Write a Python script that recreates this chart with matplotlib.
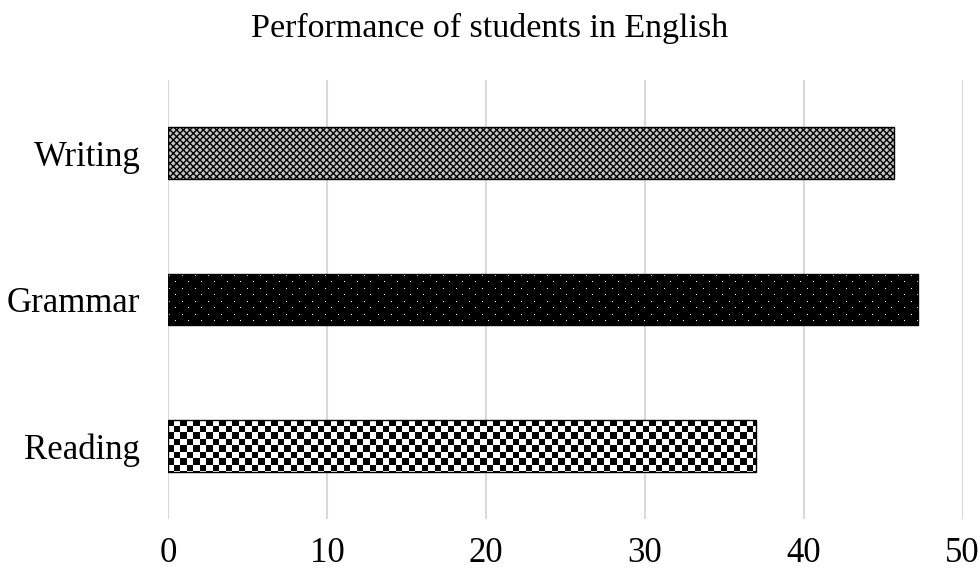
import numpy as np
import matplotlib
matplotlib.use("Agg")
import matplotlib.pyplot as plt

# data
categories = ["Reading", "Grammar", "Writing"]
scores = [37.0, 47.2, 45.7]
xticks = [0, 10, 20, 30, 40, 50]

plt.rcParams["font.family"] = ["Liberation Serif", "DejaVu Serif"]
plt.rcParams["hatch.linewidth"] = 1.0

fig = plt.figure(figsize=(9.8, 5.74), dpi=100)
ax = fig.add_axes([0.1714, 0.0958, 0.8109, 0.7648])
ax.set_xlim(0, 50)
ax.set_ylim(-0.5, 2.5)


# fill patterns (pixel based, like the excel picture)
def checker(h, w):
    i, j = np.mgrid[0:h, 0:w]
    return ((np.floor(i / 6.5) + np.floor(j / 6.5)) % 2).astype(float)


def dots(h, w):
    img = np.zeros((h, w))
    for r, y in enumerate(np.arange(3, h - 1, 6.5)):
        off = 0 if r % 2 == 0 else 6.5
        for x in np.arange(2 + off, w - 1, 13):
            img[int(y), int(x)] = 1
    return img


patterns = [checker, dots, None]

bars = ax.barh(categories, scores, height=0.355, facecolor="none",
               edgecolor="black", linewidth=1.0, zorder=3)

inv = ax.transData.inverted()
for bar, pat in zip(bars, patterns):
    if pat is None:
        # Writing: fine crossed net, done with a hatch so it tiles cleanly
        bar.set_facecolor("#c4c4c4")
        bar.set_hatch("xxxxx")
        continue
    x0, y0 = bar.get_x(), bar.get_y()
    x1, y1 = x0 + bar.get_width(), y0 + bar.get_height()
    (px0, py0), (px1, py1) = ax.transData.transform([(x0, y0), (x1, y1)])
    qx0, qy0 = np.floor(px0) + 0.25, np.floor(py0) + 0.25
    qx1, qy1 = np.ceil(px1) + 0.25, np.ceil(py1) + 0.25
    w, h = int(round(qx1 - qx0)), int(round(qy1 - qy0))
    (ex0, ey0), (ex1, ey1) = inv.transform([(qx0, qy0), (qx1, qy1)])
    im = ax.imshow(pat(h, w), cmap="gray", vmin=0, vmax=1, aspect="auto",
                   interpolation="nearest", extent=(ex0, ex1, ey0, ey1),
                   origin="upper", zorder=2)
    im.set_clip_path(bar)

ax.set_xlim(0, 50)
ax.set_ylim(-0.5, 2.5)
ax.set_xticks(xticks)
ax.grid(axis="x", color="#d9d9d9", linewidth=1.5, zorder=0)
ax.set_axisbelow(True)
for s in ax.spines.values():
    s.set_visible(False)
ax.tick_params(axis="both", length=0, labelsize=25)
ax.tick_params(axis="y", pad=20)
ax.tick_params(axis="x", pad=13)

fig.suptitle("Performance of students in English", fontsize=24.5, y=0.977)

fig.savefig("out.png", dpi=100)
